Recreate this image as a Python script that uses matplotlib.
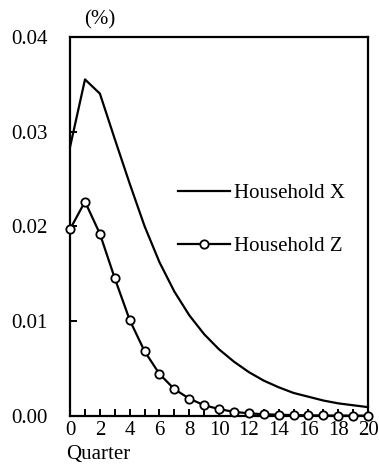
import matplotlib
matplotlib.use("Agg")
import matplotlib.pyplot as plt
import numpy as np

plt.rcParams['font.family'] = ['Liberation Serif', 'DejaVu Serif']

# impulse responses by quarter (%)
quarters = np.arange(0, 21)
household_x = [0.0284, 0.0355, 0.0340, 0.0292, 0.0245, 0.0200, 0.0162, 0.0131,
               0.0106, 0.0086, 0.0070, 0.0057, 0.0046, 0.0037, 0.0030, 0.0024,
               0.0020, 0.0016, 0.0013, 0.0011, 0.0009]
household_z = [0.0197, 0.0226, 0.0192, 0.0145, 0.0101, 0.0068, 0.0044, 0.0028,
               0.0018, 0.0011, 0.0007, 0.0004, 0.00025, 0.00015, 0.0001, 0.00006,
               0.00004, 0.00002, 0.00001, 0.00001, 0.0]
ytick_vals = [0.00, 0.01, 0.02, 0.03, 0.04]
ytick_labels = ['0.00', '0.01', '0.02', '0.03', '0.04']

fig = plt.figure(figsize=(3.79, 4.66), dpi=100)
ax = fig.add_axes([0.185, 0.108, 0.786, 0.813])

ax.plot(quarters, household_x, color='black', lw=1.6, label='Household X', clip_on=False)
ax.plot(quarters, household_z, color='black', lw=1.6, marker='o', ms=6,
        mfc='white', mec='black', mew=1.3, label='Household Z', clip_on=False, zorder=3)

ax.set_xlim(0, 20)
ax.set_ylim(0, 0.04)
ax.set_yticks(ytick_vals)
ax.set_yticklabels(ytick_labels)
ax.set_xticks(np.arange(0, 21, 2))
ax.set_xticks(np.arange(0, 21, 1), minor=True)

for s in ax.spines.values():
    s.set_linewidth(1.6)
ax.tick_params(axis='y', which='major', direction='in', length=5, width=1.4, labelsize=15, pad=16)
ax.tick_params(axis='x', which='both', direction='in', length=5, width=1.4)
ax.tick_params(axis='x', which='major', labelsize=15, pad=4)

ax.legend(loc='center left', bbox_to_anchor=(0.362, 0.517), frameon=False, fontsize=15,
          handlelength=2.5, handletextpad=0.2, labelspacing=1.6, borderpad=0,
          borderaxespad=0)

fig.text(100 / 379, 1 - 20 / 466, '(%)', fontsize=15, ha='center', va='center')
fig.text(66 / 379, 1 - 455 / 466, 'Quarter', fontsize=15, ha='left', va='center')

fig.savefig('out.png', dpi=100)
